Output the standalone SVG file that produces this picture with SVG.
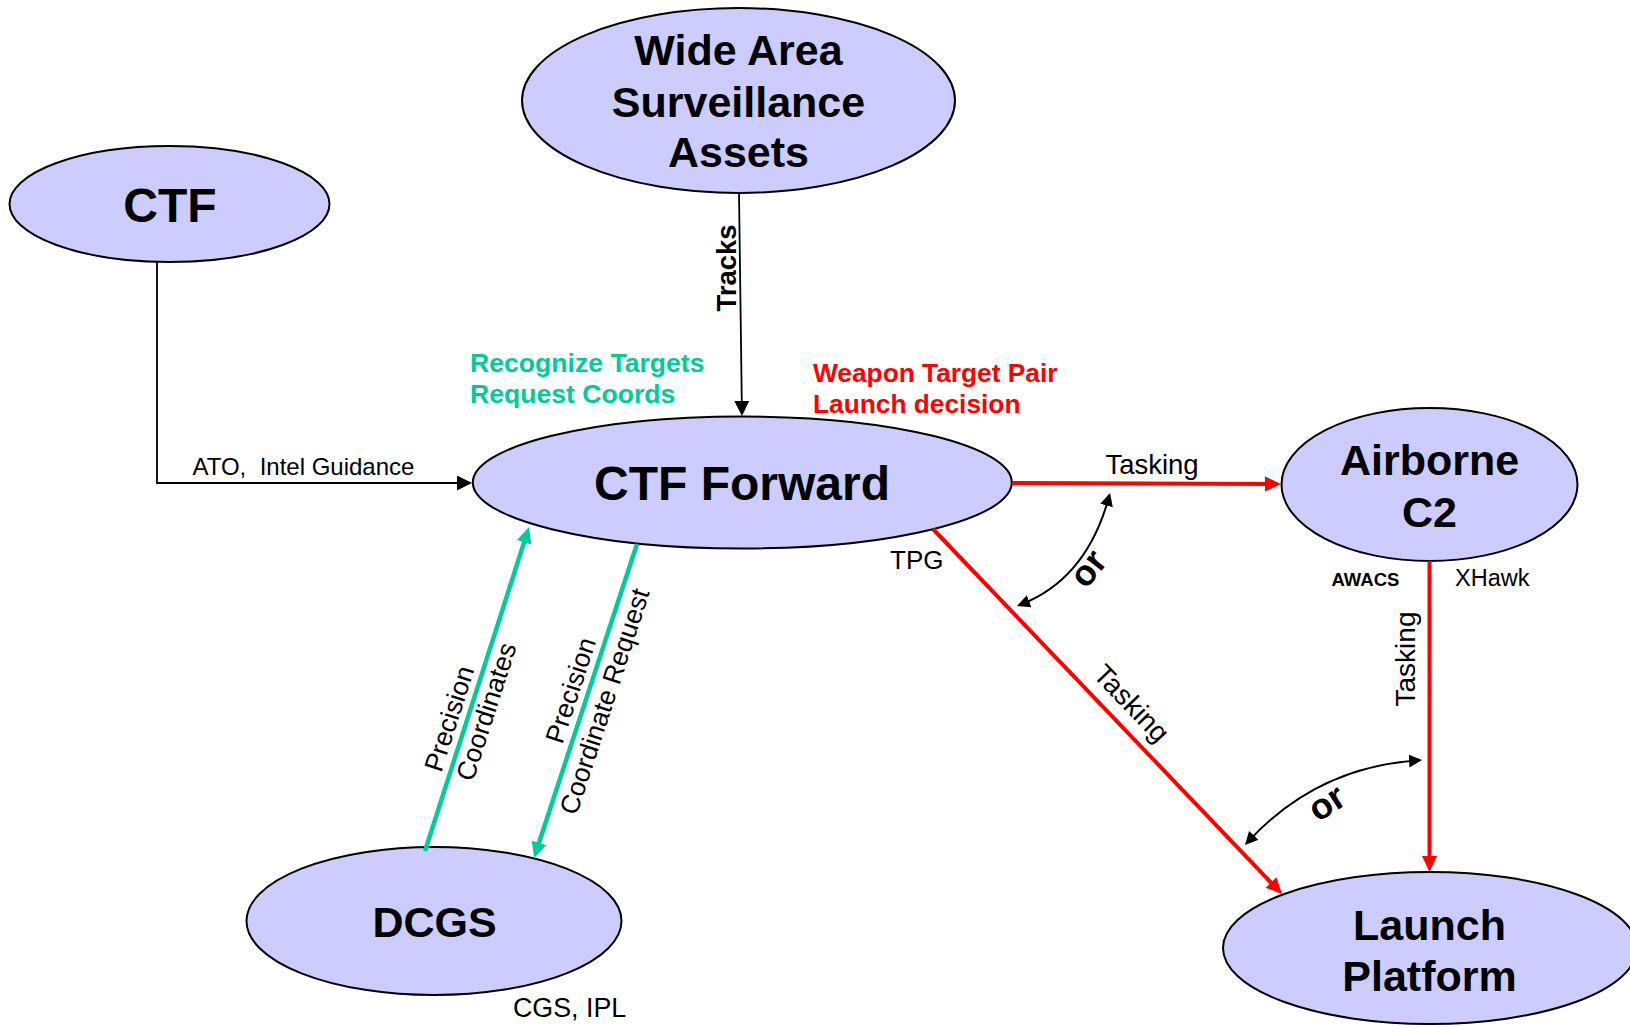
<svg xmlns="http://www.w3.org/2000/svg" width="1630" height="1027" viewBox="0 0 1630 1027">
<style>
.node{fill:#CCCCFF;stroke:#000;stroke-width:2}
.nt{font-family:"Liberation Sans",Arial,sans-serif;font-weight:bold;fill:#000;text-anchor:middle}
.lbl{font-family:"Liberation Sans",Arial,sans-serif;fill:#000}
.b{font-weight:bold}
.blk{stroke:#000;stroke-width:1.8;fill:none}
.red{stroke:#FF0000;stroke-width:4;fill:none}
.grn{stroke:#00CC99;stroke-width:4.5;fill:none}
.arc{stroke:#000;stroke-width:2;fill:none}
</style>
<defs>
<marker id="aBlk" markerUnits="userSpaceOnUse" markerWidth="16" markerHeight="16" refX="9" refY="7.5" orient="auto"><path d="M0,0 L15,7.5 L0,15 z" fill="#000"/></marker>
<marker id="aRed" markerUnits="userSpaceOnUse" markerWidth="17" markerHeight="16" refX="10" refY="7.5" orient="auto"><path d="M0,0 L16,7.5 L0,15 z" fill="#FF0000"/></marker>
<marker id="aGrn" markerUnits="userSpaceOnUse" markerWidth="17" markerHeight="16" refX="10" refY="7.5" orient="auto"><path d="M0,0 L16,7.5 L0,15 z" fill="#00CC99"/></marker>
<marker id="aArc" markerUnits="userSpaceOnUse" markerWidth="14" markerHeight="14" refX="8" refY="6.5" orient="auto-start-reverse"><path d="M0,0 L13,6.5 L0,13 z" fill="#000"/></marker>
</defs>
<rect width="1630" height="1027" fill="#fff"/>

<g id="node-ctf">
<ellipse class="node" cx="169.5" cy="204" rx="160" ry="58"/>
<text class="nt" x="170" y="222" font-size="48">CTF</text>
</g>
<g id="node-was">
<ellipse class="node" cx="738.5" cy="100.5" rx="216.5" ry="92.5"/>
<text class="nt" x="738.5" y="65" font-size="43">Wide Area</text>
<text class="nt" x="738.5" y="117" font-size="43">Surveillance</text>
<text class="nt" x="738.5" y="167" font-size="43">Assets</text>
</g>
<g id="node-ctffwd">
<ellipse class="node" cx="742.3" cy="482.5" rx="269.5" ry="66"/>
<text class="nt" x="742" y="500" font-size="48">CTF Forward</text>
</g>
<g id="node-airborne">
<ellipse class="node" cx="1429.5" cy="484.5" rx="148" ry="76.5"/>
<text class="nt" x="1429.5" y="475" font-size="43">Airborne</text>
<text class="nt" x="1429.5" y="527" font-size="43">C2</text>
</g>
<g id="node-launch">
<ellipse class="node" cx="1430" cy="948" rx="207" ry="76"/>
<text class="nt" x="1429.5" y="940" font-size="43">Launch</text>
<text class="nt" x="1429.5" y="991" font-size="43">Platform</text>
</g>
<g id="node-dcgs">
<ellipse class="node" cx="434" cy="921" rx="187.5" ry="74"/>
<text class="nt" x="434.5" y="937" font-size="43">DCGS</text>
</g>

<g id="connectors">
<path class="blk" d="M157,262 V483 H466" marker-end="url(#aBlk)"/>
<path class="blk" d="M739,193 L741.9,410" marker-end="url(#aBlk)"/>
<path class="red" d="M1012,483 L1275,484" marker-end="url(#aRed)"/>
<path class="red" d="M933,529 L1277.9,889.7" marker-end="url(#aRed)"/>
<path class="red" d="M1429.5,561 L1429.5,866" marker-end="url(#aRed)"/>
<path class="grn" d="M425,851 L527.2,532.7" marker-end="url(#aGrn)"/>
<path class="grn" d="M637,544 L535.9,852.3" marker-end="url(#aGrn)"/>
<path class="arc" d="M1108.7,497.8 Q1086.5,578.5 1021.7,604.2" marker-start="url(#aArc)" marker-end="url(#aArc)"/>
<path class="arc" d="M1417,760.4 Q1316.5,767.5 1248.4,841.3" marker-start="url(#aArc)" marker-end="url(#aArc)"/>
</g>

<g id="labels">
<text class="lbl" x="192.5" y="475" font-size="24" xml:space="preserve" style="white-space:pre">ATO,  Intel Guidance</text>
<text class="lbl b" font-size="27.5" text-anchor="middle" transform="translate(736,268) rotate(-90)">Tracks</text>
<text class="lbl b" font-size="26.6" style="fill:#00CC99" x="470" y="372">Recognize Targets</text>
<text class="lbl b" font-size="26.6" style="fill:#00CC99" x="470" y="403">Request Coords</text>
<text class="lbl b" font-size="26.3" style="fill:#FF0000" x="813" y="382">Weapon Target Pair</text>
<text class="lbl b" font-size="26.3" style="fill:#FF0000" x="813" y="413">Launch decision</text>
<text class="lbl" font-size="27.5" x="1152" y="473.5" text-anchor="middle">Tasking</text>
<text class="lbl" font-size="26" x="890" y="569">TPG</text>
<text class="lbl b" font-size="18.5" x="1331.5" y="586">AWACS</text>
<text class="lbl" font-size="23.5" x="1455" y="586">XHawk</text>
<text class="lbl" font-size="28" text-anchor="middle" transform="translate(1415,659) rotate(-90)">Tasking</text>
<text class="lbl" font-size="28" text-anchor="middle" transform="translate(1124.7,710) rotate(46.25)">Tasking</text>
<text class="lbl b" font-size="36" text-anchor="middle" transform="translate(1090,570) rotate(-52)" y="9.5">or</text>
<text class="lbl b" font-size="36" text-anchor="middle" transform="translate(1328,805) rotate(-33)" y="9.5">or</text>
<text class="lbl" font-size="26.5" transform="translate(441.2,773.3) rotate(-72.2)">Precision</text>
<text class="lbl" font-size="26.5" transform="translate(473,782.4) rotate(-72.2)">Coordinates</text>
<text class="lbl" font-size="26.5" text-anchor="middle" transform="translate(579.3,693.1) rotate(-71.86)">Precision</text>
<text class="lbl" font-size="26.5" text-anchor="middle" transform="translate(613.2,704.2) rotate(-71.86)">Coordinate Request</text>
<text class="lbl" font-size="26.8" x="513" y="1016.5">CGS, IPL</text>
</g>
</svg>
